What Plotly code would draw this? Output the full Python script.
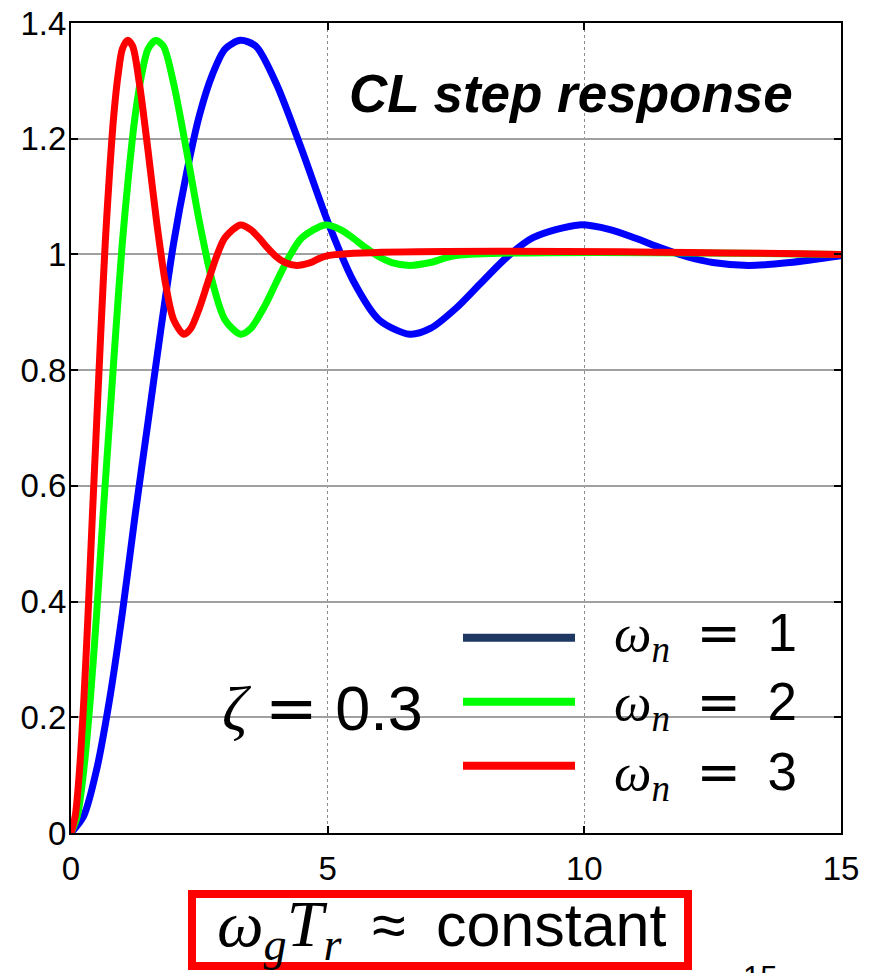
import plotly.graph_objects as go

# ---- data ----
t_wn1 = [0, 0.25, 0.5, 0.75, 1.0, 1.25, 1.5, 1.75, 2.0, 2.25, 2.5, 2.75, 3.0, 3.3, 3.6,
         4.0, 4.5, 5.0, 5.5, 6.0, 6.6, 7.0, 7.5, 8.0, 8.5, 9.0, 9.9, 10.5, 11.0, 11.5,
         12.0, 12.5, 13.2, 14.0, 15.0]
y_wn1 = [0, 0.03, 0.11, 0.23, 0.38, 0.55, 0.71, 0.87, 1.02, 1.14, 1.24, 1.31, 1.355, 1.37, 1.36,
         1.295, 1.18, 1.057, 0.954, 0.887, 0.862, 0.872, 0.907, 0.952, 0.996, 1.029, 1.051, 1.043, 1.028, 1.011,
         0.996, 0.986, 0.981, 0.986, 0.998]

t_wn2 = [0, 0.125, 0.25, 0.375, 0.5, 0.625, 0.75, 0.875, 1.0, 1.125, 1.25, 1.375, 1.5, 1.65, 1.8,
         2.0, 2.25, 2.5, 2.75, 3.0, 3.3, 3.5, 3.75, 4.0, 4.25, 4.5, 4.95, 5.25, 5.5, 5.75,
         6.0, 6.25, 6.6, 7.0, 7.5, 15.0]
y_wn2 = [0, 0.03, 0.11, 0.23, 0.38, 0.55, 0.71, 0.87, 1.02, 1.14, 1.24, 1.31, 1.355, 1.37, 1.36,
         1.295, 1.18, 1.057, 0.954, 0.887, 0.862, 0.872, 0.907, 0.952, 0.996, 1.029, 1.051, 1.043, 1.028, 1.011,
         0.996, 0.986, 0.981, 0.986, 0.998, 1.0]

t_wn3 = [0, 0.083, 0.167, 0.25, 0.333, 0.417, 0.5, 0.583, 0.667, 0.75, 0.833, 0.917, 1.0, 1.1, 1.2,
         1.333, 1.5, 1.667, 1.833, 2.0, 2.2, 2.333, 2.5, 2.667, 2.833, 3.0, 3.3, 3.5, 3.667, 3.833,
         4.0, 4.167, 4.4, 4.667, 5.0, 15.0]
y_wn3 = [0, 0.03, 0.11, 0.23, 0.38, 0.55, 0.71, 0.87, 1.02, 1.14, 1.24, 1.31, 1.355, 1.37, 1.36,
         1.295, 1.18, 1.057, 0.954, 0.887, 0.862, 0.872, 0.907, 0.952, 0.996, 1.029, 1.051, 1.043, 1.028, 1.011,
         0.996, 0.986, 0.981, 0.986, 0.998, 1.0]

x_ticks = [0, 5, 10, 15]
x_tick_labels = ["0", "5", "10", "15"]
y_ticks = [0, 0.2, 0.4, 0.6, 0.8, 1.0, 1.2, 1.4]
y_tick_labels = ["0", "0.2", "0.4", "0.6", "0.8", "1", "1.2", "1.4"]

wn_values = ["1", "2", "3"]
zeta_value = "0.3"
series_colors = ["#0000ff", "#00ff00", "#ff0000"]
legend_colors = ["#1f3763", "#00ff00", "#ff0000"]

# page body has an 8px margin: the figure is sized to fit the window
OFF = 8
W, H = 863, 965
L, R, T, B = 63, 30, 15, 140

fig = go.Figure()
for xs, ys, c in [(t_wn1, y_wn1, series_colors[0]), (t_wn2, y_wn2, series_colors[1]),
                  (t_wn3, y_wn3, series_colors[2])]:
    fig.add_trace(go.Scatter(x=xs, y=ys, mode="lines",
                             line=dict(color=c, width=7, shape="spline", smoothing=0.8),
                             showlegend=False, hoverinfo="skip"))

tickfont = dict(family="Liberation Sans, Arial", size=33, color="black")

fig.update_xaxes(range=[0, 15], tickvals=x_ticks, ticktext=x_tick_labels,
                 showline=True, linecolor="black", linewidth=2, mirror="ticks",
                 ticks="inside", ticklen=7, tickwidth=2, tickcolor="black",
                 showgrid=True, gridcolor="#8c8c8c", gridwidth=1, griddash="dot",
                 zeroline=False, tickfont=tickfont, ticklabelstandoff=5,
                 ticklabeloverflow="allow")
fig.update_yaxes(range=[0, 1.4], tickvals=y_ticks, ticktext=y_tick_labels,
                 showline=True, linecolor="black", linewidth=2, mirror="ticks",
                 ticks="inside", ticklen=7, tickwidth=2, tickcolor="black",
                 showgrid=True, gridcolor="#a0a0a0", gridwidth=1.5,
                 zeroline=False, tickfont=tickfont, ticklabelstandoff=-4,
                 ticklabeloverflow="allow")

pw, ph = W - L - R, H - T - B


def scr2paper(sx, sy):
    """screen pixel of the 871x973 shot -> paper coordinates"""
    return (sx - OFF - L) / pw, (H - B - (sy - OFF)) / ph


shapes = []
annotations = []

serif = "font-family:'Liberation Serif','DejaVu Serif',serif;font-style:italic"
eqf = "font-family:'DejaVu Sans',sans-serif"
EN = "\u2002"

# legend (lines + labels)
legend_line_y = [637.7, 701.7, 765.7]
legend_text_y = [636, 705, 775]
for i in range(3):
    x0, y0 = scr2paper(463, legend_line_y[i])
    x1, _ = scr2paper(575, legend_line_y[i])
    shapes.append(dict(type="line", xref="paper", yref="paper", x0=x0, x1=x1, y0=y0, y1=y0,
                       line=dict(color=legend_colors[i], width=8)))
    tx, ty = scr2paper(612, legend_text_y[i])
    annotations.append(dict(xref="paper", yref="paper", x=tx, y=ty, xanchor="left", yanchor="middle",
                            showarrow=False,
                            text=(f"<span style=\"{serif}\">ω<sub>n</sub></span>{EN}"
                                  f"<span style=\"{eqf}\">=</span>{EN}{wn_values[i]}"),
                            font=dict(family="Liberation Sans, Arial", size=53, color="black")))

# zeta label
zx, zy = scr2paper(220, 708)
annotations.append(dict(xref="paper", yref="paper", x=zx, y=zy, xanchor="left", yanchor="middle",
                        showarrow=False,
                        text=f"<span style=\"{serif}\">ζ</span> <span style=\"{eqf}\">=</span> {zeta_value}",
                        font=dict(family="Liberation Sans, Arial", size=63, color="black")))

# title inside plot
tx, ty = scr2paper(571, 93)
annotations.append(dict(xref="paper", yref="paper", x=tx, y=ty, xanchor="center", yanchor="middle",
                        showarrow=False, text="<b><i>CL step response</i></b>",
                        font=dict(family="Liberation Sans, Arial", size=53, color="black")))

# boxed remark below the axis
bx0, by0 = scr2paper(192, 966)
bx1, by1 = scr2paper(688, 894)
shapes.append(dict(type="rect", xref="paper", yref="paper", x0=bx0, x1=bx1, y0=by0, y1=by1,
                   line=dict(color="#ff0000", width=8), fillcolor="rgba(0,0,0,0)"))
cx, cy = scr2paper(442, 928)
annotations.append(dict(xref="paper", yref="paper", x=cx, y=cy, xanchor="center", yanchor="middle",
                        showarrow=False,
                        text=(f"<span style=\"{serif};font-size:66px\">ω<sub>g</sub>T<sub>r</sub></span>{EN}"
                              f"≈{EN}constant"),
                        font=dict(family="Liberation Sans, Arial", size=61, color="black")))

# slide number
sx, sy = scr2paper(760, 958)
annotations.append(dict(xref="paper", yref="paper", x=sx, y=sy, xanchor="center", yanchor="top",
                        showarrow=False, text="15",
                        font=dict(family="Liberation Sans, Arial", size=31, color="black")))

fig.update_layout(width=W, height=H, margin=dict(l=L, r=R, t=T, b=B, autoexpand=False),
                  paper_bgcolor="white", plot_bgcolor="white",
                  shapes=shapes, annotations=annotations, showlegend=False)

fig.write_html("out.html")
